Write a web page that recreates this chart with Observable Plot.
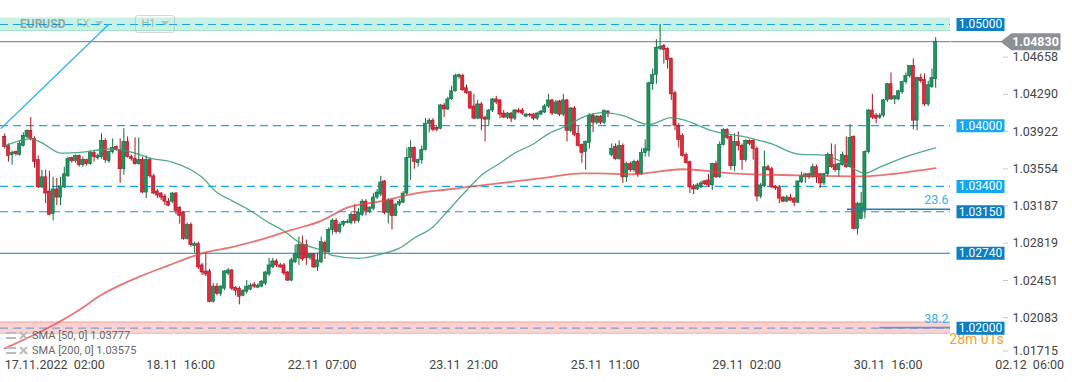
<!DOCTYPE html>
<html><head><meta charset="utf-8">
<script src="https://cdn.jsdelivr.net/npm/d3@7"></script>
<script src="https://cdn.jsdelivr.net/npm/@observablehq/plot@0.6"></script>
<style>
html,body{margin:0;padding:0;background:#fff;}
#wrap{position:relative;width:1072px;height:382px;overflow:hidden;font-family:Roboto,sans-serif;}
#chart svg{display:block;}
#sym{position:absolute;left:20px;top:15px;height:17px;display:flex;align-items:center;color:rgba(80,95,95,0.5);font-size:12px;}
#sym .t{font-weight:700;}
#sym .fx{margin-left:11px;font-size:11px;color:rgba(80,95,95,0.35);}
#sym .car{display:inline-block;width:0;height:0;border-left:4px solid transparent;border-right:4px solid transparent;border-top:5px solid rgba(80,95,95,0.3);margin-left:6px;}
#sym .tf{margin-left:32px;border:1px solid rgba(160,170,170,0.45);border-radius:3px;padding:0 5px;height:16px;display:flex;align-items:center;font-size:11px;color:rgba(80,95,95,0.4);}
#legend{position:absolute;left:6px;top:328px;font-size:11px;color:#666;line-height:15px;}
#legend .row{display:flex;align-items:center;}
#legend svg{margin-right:4px;}
</style></head><body>
<div id="wrap"><div id="chart"></div>
<div id="sym"><span class="t">EURUSD</span><span class="fx">FX</span><span class="car"></span><span class="tf">H1<span class="car"></span></span></div>
<div id="legend">
<div class="row"><svg width="22" height="10"><rect x="0" y="1" width="10" height="2" fill="#bbb"/><rect x="0" y="6" width="10" height="2" fill="#bbb"/><path d="M14 1 L21 8 M21 1 L14 8" stroke="#bbb" stroke-width="2"/></svg><span>SMA [50, 0] 1.03777</span></div>
<div class="row"><svg width="22" height="10"><rect x="0" y="1" width="10" height="2" fill="#bbb"/><rect x="0" y="6" width="10" height="2" fill="#bbb"/><path d="M14 1 L21 8 M21 1 L14 8" stroke="#bbb" stroke-width="2"/></svg><span>SMA [200, 0] 1.03575</span></div>
</div>
</div>
<script>
// ---- Hourly candles EURUSD H1, index 0 = 17.11.2022 02:00 ----
const opens = [1.0389,1.0380,1.0371,1.0374,1.0371,1.0380,1.0389,1.0395,1.0387,1.0366,1.0339,1.0349,1.0335,1.0313,1.0337,1.0329,1.0339,1.0350,1.0368,1.0365,
1.0370,1.0361,1.0366,1.0362,1.0373,1.0368,1.0369,1.0385,1.0365,1.0374,1.0379,1.0376,1.0357,1.0384,1.0369,1.0367,1.0362,1.0366,1.0334,1.0366,
1.0350,1.0335,1.0333,1.0330,1.0325,1.0325,1.0333,1.0319,1.0314,1.0288,1.0302,1.0281,1.0283,1.0262,1.0256,1.0256,1.0226,1.0241,1.0234,1.0239,
1.0254,1.0257,1.0240,1.0239,1.0232,1.0236,1.0238,1.0243,1.0240,1.0241,1.0244,1.0253,1.0260,1.0266,1.0262,1.0262,1.0255,1.0247,1.0265,1.0269,
1.0282,1.0282,1.0269,1.0273,1.0260,1.0265,1.0284,1.0275,1.0297,1.0306,1.0295,1.0302,1.0304,1.0304,1.0312,1.0306,1.0312,1.0325,1.0315,1.0318,
1.0329,1.0332,1.0345,1.0314,1.0326,1.0311,1.0322,1.0324,1.0333,1.0368,1.0378,1.0363,1.0366,1.0376,1.0402,1.0405,1.0398,1.0397,1.0420,1.0416,
1.0426,1.0434,1.0448,1.0449,1.0437,1.0433,1.0419,1.0407,1.0421,1.0408,1.0406,1.0415,1.0426,1.0425,1.0412,1.0408,1.0412,1.0407,1.0415,1.0415,
1.0409,1.0411,1.0411,1.0407,1.0411,1.0413,1.0419,1.0425,1.0412,1.0424,1.0411,1.0425,1.0395,1.0417,1.0392,1.0381,1.0374,1.0383,1.0410,1.0403,
1.0409,1.0403,1.0414,1.0371,1.0379,1.0367,1.0380,1.0349,1.0362,1.0356,1.0364,1.0352,1.0373,1.0375,1.0441,1.0450,1.0476,1.0479,1.0476,1.0466,
1.0432,1.0400,1.0390,1.0371,1.0364,1.0340,1.0337,1.0339,1.0345,1.0346,1.0341,1.0362,1.0349,1.0381,1.0396,1.0389,1.0360,1.0384,1.0380,1.0366,
1.0385,1.0385,1.0377,1.0330,1.0340,1.0359,1.0357,1.0340,1.0339,1.0329,1.0325,1.0329,1.0328,1.0324,1.0344,1.0349,1.0352,1.0349,1.0359,1.0352,
1.0343,1.0352,1.0371,1.0361,1.0356,1.0361,1.0370,1.0359,1.0389,1.0298,1.0308,1.0316,1.0374,1.0415,1.0410,1.0408,1.0410,1.0425,1.0441,1.0426,
1.0426,1.0433,1.0443,1.0449,1.0459,1.0405,1.0447,1.0445,1.0421,1.0438,1.0446];
const highs = [1.0392,1.0382,1.0375,1.0375,1.0385,1.0393,1.0396,1.0408,1.0389,1.0370,1.0356,1.0356,1.0355,1.0349,1.0348,1.0349,1.0359,1.0369,1.0369,1.0371,
1.0371,1.0369,1.0367,1.0375,1.0375,1.0372,1.0392,1.0387,1.0375,1.0387,1.0380,1.0387,1.0397,1.0389,1.0371,1.0388,1.0388,1.0369,1.0370,1.0368,
1.0352,1.0337,1.0334,1.0332,1.0328,1.0334,1.0334,1.0320,1.0315,1.0304,1.0304,1.0285,1.0285,1.0264,1.0274,1.0258,1.0244,1.0244,1.0242,1.0257,
1.0259,1.0258,1.0241,1.0241,1.0238,1.0247,1.0244,1.0245,1.0244,1.0247,1.0256,1.0269,1.0269,1.0268,1.0264,1.0264,1.0256,1.0269,1.0282,1.0290,
1.0291,1.0287,1.0274,1.0274,1.0274,1.0290,1.0286,1.0299,1.0308,1.0308,1.0304,1.0306,1.0307,1.0314,1.0322,1.0318,1.0327,1.0327,1.0320,1.0333,
1.0337,1.0350,1.0346,1.0328,1.0328,1.0323,1.0327,1.0335,1.0378,1.0385,1.0379,1.0367,1.0380,1.0407,1.0407,1.0407,1.0399,1.0421,1.0422,1.0428,
1.0439,1.0451,1.0451,1.0451,1.0440,1.0434,1.0431,1.0425,1.0423,1.0409,1.0416,1.0427,1.0429,1.0426,1.0415,1.0413,1.0413,1.0416,1.0417,1.0417,
1.0412,1.0412,1.0412,1.0413,1.0415,1.0421,1.0431,1.0426,1.0425,1.0425,1.0431,1.0426,1.0418,1.0419,1.0399,1.0382,1.0385,1.0412,1.0412,1.0410,
1.0410,1.0415,1.0415,1.0382,1.0382,1.0385,1.0382,1.0364,1.0364,1.0366,1.0366,1.0377,1.0386,1.0443,1.0456,1.0485,1.0500,1.0480,1.0477,1.0467,
1.0434,1.0402,1.0392,1.0373,1.0365,1.0342,1.0343,1.0345,1.0346,1.0352,1.0363,1.0365,1.0384,1.0397,1.0397,1.0391,1.0392,1.0394,1.0382,1.0386,
1.0386,1.0386,1.0379,1.0343,1.0375,1.0361,1.0359,1.0341,1.0341,1.0330,1.0331,1.0332,1.0329,1.0345,1.0354,1.0353,1.0353,1.0362,1.0361,1.0353,
1.0353,1.0373,1.0382,1.0381,1.0363,1.0374,1.0389,1.0401,1.0390,1.0324,1.0334,1.0375,1.0416,1.0431,1.0412,1.0412,1.0426,1.0442,1.0452,1.0430,
1.0435,1.0444,1.0452,1.0459,1.0466,1.0448,1.0451,1.0451,1.0444,1.0456,1.0487];
const lows = [1.0377,1.0364,1.0361,1.0370,1.0370,1.0379,1.0387,1.0385,1.0358,1.0338,1.0338,1.0323,1.0311,1.0306,1.0321,1.0321,1.0338,1.0349,1.0363,1.0363,
1.0359,1.0359,1.0360,1.0361,1.0364,1.0366,1.0367,1.0363,1.0363,1.0372,1.0375,1.0343,1.0351,1.0368,1.0365,1.0361,1.0361,1.0333,1.0328,1.0348,
1.0332,1.0328,1.0326,1.0321,1.0320,1.0323,1.0312,1.0303,1.0287,1.0287,1.0280,1.0274,1.0258,1.0252,1.0251,1.0225,1.0225,1.0232,1.0231,1.0237,
1.0252,1.0237,1.0232,1.0223,1.0231,1.0234,1.0237,1.0239,1.0239,1.0240,1.0242,1.0251,1.0259,1.0260,1.0259,1.0252,1.0246,1.0246,1.0264,1.0262,
1.0266,1.0262,1.0267,1.0259,1.0256,1.0264,1.0268,1.0274,1.0292,1.0293,1.0293,1.0300,1.0303,1.0302,1.0303,1.0304,1.0310,1.0311,1.0313,1.0316,
1.0327,1.0330,1.0312,1.0303,1.0297,1.0310,1.0320,1.0323,1.0331,1.0346,1.0357,1.0359,1.0362,1.0375,1.0393,1.0394,1.0394,1.0396,1.0408,1.0415,
1.0425,1.0433,1.0446,1.0434,1.0431,1.0416,1.0406,1.0406,1.0395,1.0384,1.0400,1.0413,1.0421,1.0407,1.0407,1.0406,1.0403,1.0405,1.0412,1.0410,
1.0408,1.0408,1.0405,1.0405,1.0410,1.0412,1.0417,1.0410,1.0411,1.0409,1.0409,1.0384,1.0393,1.0389,1.0379,1.0363,1.0356,1.0377,1.0393,1.0401,
1.0401,1.0401,1.0408,1.0369,1.0366,1.0366,1.0343,1.0344,1.0354,1.0354,1.0349,1.0351,1.0369,1.0369,1.0435,1.0441,1.0474,1.0461,1.0456,1.0425,
1.0395,1.0378,1.0369,1.0362,1.0333,1.0332,1.0336,1.0338,1.0341,1.0339,1.0336,1.0348,1.0348,1.0380,1.0386,1.0356,1.0355,1.0375,1.0356,1.0364,
1.0380,1.0366,1.0325,1.0328,1.0339,1.0355,1.0338,1.0336,1.0323,1.0324,1.0324,1.0325,1.0320,1.0323,1.0343,1.0343,1.0347,1.0348,1.0343,1.0338,
1.0341,1.0350,1.0358,1.0354,1.0349,1.0360,1.0358,1.0358,1.0297,1.0292,1.0307,1.0308,1.0372,1.0406,1.0402,1.0406,1.0408,1.0423,1.0425,1.0421,
1.0425,1.0431,1.0441,1.0447,1.0396,1.0395,1.0442,1.0419,1.0419,1.0437,1.0437];
const closes = [1.0379,1.0370,1.0373,1.0372,1.0382,1.0390,1.0395,1.0387,1.0364,1.0339,1.0349,1.0333,1.0312,1.0337,1.0329,1.0340,1.0352,1.0367,1.0365,1.0370,
1.0361,1.0366,1.0362,1.0373,1.0369,1.0370,1.0385,1.0366,1.0374,1.0378,1.0376,1.0357,1.0384,1.0369,1.0367,1.0362,1.0366,1.0334,1.0366,1.0350,
1.0333,1.0331,1.0329,1.0325,1.0321,1.0333,1.0316,1.0311,1.0288,1.0302,1.0282,1.0283,1.0260,1.0255,1.0253,1.0226,1.0241,1.0234,1.0241,1.0256,
1.0257,1.0239,1.0237,1.0231,1.0237,1.0241,1.0242,1.0241,1.0242,1.0246,1.0255,1.0262,1.0266,1.0262,1.0260,1.0254,1.0247,1.0267,1.0273,1.0282,
1.0268,1.0269,1.0273,1.0260,1.0267,1.0285,1.0275,1.0297,1.0306,1.0295,1.0302,1.0305,1.0305,1.0312,1.0306,1.0314,1.0325,1.0316,1.0319,1.0329,
1.0334,1.0344,1.0314,1.0326,1.0311,1.0322,1.0325,1.0333,1.0368,1.0378,1.0364,1.0366,1.0376,1.0402,1.0405,1.0396,1.0396,1.0420,1.0416,1.0426,
1.0434,1.0449,1.0450,1.0435,1.0432,1.0417,1.0407,1.0421,1.0407,1.0406,1.0415,1.0426,1.0423,1.0411,1.0408,1.0412,1.0407,1.0415,1.0413,1.0412,
1.0411,1.0410,1.0407,1.0412,1.0414,1.0419,1.0425,1.0412,1.0423,1.0411,1.0425,1.0395,1.0417,1.0391,1.0380,1.0373,1.0384,1.0410,1.0403,1.0409,
1.0403,1.0415,1.0412,1.0377,1.0367,1.0380,1.0349,1.0362,1.0356,1.0364,1.0352,1.0373,1.0377,1.0442,1.0450,1.0477,1.0478,1.0475,1.0465,1.0431,
1.0400,1.0386,1.0370,1.0363,1.0339,1.0337,1.0341,1.0343,1.0342,1.0341,1.0362,1.0349,1.0381,1.0396,1.0388,1.0360,1.0384,1.0380,1.0366,1.0385,
1.0382,1.0377,1.0330,1.0341,1.0359,1.0356,1.0339,1.0338,1.0328,1.0325,1.0329,1.0326,1.0324,1.0345,1.0350,1.0352,1.0349,1.0359,1.0349,1.0343,
1.0352,1.0371,1.0359,1.0356,1.0362,1.0371,1.0359,1.0388,1.0298,1.0323,1.0323,1.0374,1.0415,1.0408,1.0407,1.0410,1.0425,1.0441,1.0426,1.0429,
1.0434,1.0443,1.0449,1.0459,1.0405,1.0447,1.0444,1.0421,1.0440,1.0447,1.0483];

// ---- Moving averages (candle index, value) ----
const sma50Idx = [0,7,10,15,21,28,35,39,45,53,57,61,66,71,75,79,85,88,95,102,106,110,115,119,124,128,133,137,142,146,151,155,161,166,173,179,182,190,200,206,213,220,225,231,235,241,250];
const sma50Val = [1.0380,1.0387,1.0383,1.0373,1.0374,1.0377,1.0373,1.0368,1.0364,1.0349,1.0334,1.0326,1.0316,1.0304,1.0296,1.0285,1.0277,1.0272,1.0269,1.0274,1.0279,1.0289,1.0300,1.0316,1.0336,1.0351,1.0363,1.0373,1.0382,1.0392,1.0400,1.0408,1.0413,1.0410,1.0401,1.0408,1.0406,1.0395,1.0388,1.0382,1.0372,1.0371,1.0364,1.0353,1.0359,1.0368,1.0378];
const sma200Idx = [0,20,26,35,44,53,61,71,77,85,92,102,110,119,128,137,146,155,160,168,182,195,213,231,240,250];
const sma200Val = [1.0180,1.0218,1.0233,1.0249,1.0262,1.0274,1.0280,1.0290,1.0297,1.0306,1.0319,1.0326,1.0333,1.0337,1.0341,1.0345,1.0349,1.0353,1.0353,1.0352,1.0357,1.0353,1.0351,1.0350,1.0353,1.0358];

// ---- Drawings ----
const trendIdx = [-1, 27.9];
const trendVal = [1.03973, 1.0500];
const levelVals = [1.05000, 1.04000, 1.03400, 1.03150, 1.02740, 1.02000];
const levelDash = ["8,5", "8,5", "8,5", "8,5", null, "8,5"];
const levelLine = ["#14a4ee", "#1aa6ee", "#1aa6ee", "#1d8fd8", "#1a7cc0", "#7f9dc8"];
const levelTag = ["#0b7ec4", "#16a7f2", "#16a7f2", "#0b7ec4", "#0b7ec4", "#0b7ec4"];
const zones = [{lo: 1.04941, hi: 1.05064, fill: "#c9f1e5", edge: "#a3e3cd"}, {lo: 1.01950, hi: 1.02060, fill: "#fbd2d2", edge: "#f2a6a6"}];
const fibLabels = ["23.6", "38.2"];
const fibVals = [1.03175, 1.02005];
const fibFrom = [226.3, 235];
const lastPrice = 1.04830;
const countdown = "28m 01s";
const yTicks = [1.04658, 1.04290, 1.03922, 1.03554, 1.03187, 1.02819, 1.02451, 1.02083];
const yTickLow = [1.01715];
const xTickIdx = [0, 38, 76, 114, 152, 190, 228, 266];
const xTickLabels = ["17.11.2022  02:00", "18.11  16:00", "22.11  07:00", "23.11  21:00", "25.11  11:00", "29.11  02:00", "30.11  16:00", "02.12  06:00"];

const candles = closes.map((c, i) => ({i, open: opens[i], high: highs[i], low: lows[i], close: c, up: c >= opens[i]}));
const sma50 = sma50Idx.map((i, k) => ({i, v: sma50Val[k]}));
const sma200 = sma200Idx.map((i, k) => ({i, v: sma200Val[k]}));
const trend = trendIdx.map((i, k) => ({i, v: trendVal[k]}));
const levels = levelVals.map((v, k) => ({v, dash: levelDash[k], line: levelLine[k], tag: levelTag[k]}));
const fibs = fibLabels.map((l, k) => ({l, v: fibVals[k], from: fibFrom[k], to: 254}));
const xTicks = xTickIdx.map((i, k) => ({i, t: xTickLabels[k].replace(/ /g, "\u00a0")}));

const boxSym = {draw(ctx) { ctx.rect(-24, -6.5, 48, 13); }};
const tagSym = {draw(ctx) {
  ctx.rect(-80, -0.6, 51, 1.2);
  ctx.moveTo(-30, 0); ctx.lineTo(-19, -8.5); ctx.lineTo(30, -8.5); ctx.lineTo(30, 8.5); ctx.lineTo(-19, 8.5); ctx.closePath();
}};

const GREEN = "#1f9460", GREEN_D = "#0f6a40", RED = "#e3283c", RED_D = "#a8141f";
const axisOpts = {anchor: "right", label: null, tickFormat: d3.format(".5f"), tickSize: 5, tickPadding: 5, dx: 52, fontSize: 12.5, fill: "#444", stroke: "#c8c8c8"};

const chart = Plot.plot({
  width: 1072, height: 382,
  marginLeft: 0, marginRight: 122, marginTop: 0, marginBottom: 27,
  style: {fontFamily: "Roboto, sans-serif", background: "white", overflow: "visible"},
  x: {domain: [-1.13, 253.98], axis: null},
  y: {domain: [1.0173, 1.05237], axis: null, label: null},
  marks: [
    Plot.rect(zones, {y1: "lo", y2: "hi", fill: "fill"}),
    Plot.ruleY(zones, {y: "lo", stroke: "edge", strokeWidth: 1}),
    Plot.ruleY(zones.slice(1), {y: "hi", stroke: "edge", strokeWidth: 1}),
    ...levels.map(d => Plot.ruleY([d.v], {stroke: d.line, strokeWidth: 1.2, strokeDasharray: d.dash || undefined})),
    Plot.line(trend, {x: "i", y: "v", stroke: "#2eaef0", strokeWidth: 1.2}),
    Plot.ruleY([lastPrice], {stroke: "#8c9196", strokeWidth: 1.3}),
    Plot.ruleX(candles, {x: "i", y1: "low", y2: "high", stroke: d => d.up ? GREEN_D : RED_D, strokeWidth: 1}),
    Plot.rect(candles, {x1: d => d.i - 0.42, x2: d => d.i + 0.42, y1: "open", y2: "close", fill: d => d.up ? GREEN : RED, stroke: d => d.up ? GREEN_D : RED_D, strokeWidth: 0.6}),
    Plot.line(sma200, {x: "i", y: "v", stroke: "#e04646", strokeWidth: 1.8, strokeOpacity: 0.75, curve: "monotone-x"}),
    Plot.line(sma50, {x: "i", y: "v", stroke: "#2f9e6f", strokeWidth: 1.3, strokeOpacity: 0.85, curve: "monotone-x"}),
    Plot.ruleY(fibs, {y: "v", x1: "from", x2: "to", stroke: (d, k) => k === 0 ? "#1a7ec4" : "#7390c0", strokeWidth: 1.6}),
    Plot.text(fibs, {y: "v", text: "l", frameAnchor: "right", dx: -2, dy: -9, textAnchor: "end", fill: "#3aaef0", fontSize: 12.5}),
    Plot.text([countdown], {y: () => 1.02, text: d => d, frameAnchor: "right", dx: 26, dy: 11, textAnchor: "middle", fill: "#f6a02e", fontSize: 14}),
    Plot.dot(levels, {y: "v", frameAnchor: "right", dx: 30, symbol: boxSym, fill: "tag", stroke: null}),
    Plot.text(levels, {y: "v", text: d => d.v.toFixed(5), frameAnchor: "right", dx: 30, textAnchor: "middle", fill: "white", fontSize: 12}),
    Plot.dot([lastPrice], {y: d => d, frameAnchor: "right", dx: 80, symbol: tagSym, fill: "#8c9196", stroke: null}),
    Plot.text([lastPrice], {y: d => d, text: d => d.toFixed(5), frameAnchor: "right", dx: 85, textAnchor: "middle", fill: "white", fontSize: 12.5, fontWeight: "bold"}),
    Plot.axisY(yTicks, {...axisOpts, dy: -2}),
    Plot.axisY(yTickLow, {...axisOpts, dy: -6}),
    Plot.text(xTicks, {x: "i", text: "t", frameAnchor: "bottom", dy: 13, textAnchor: "start", fill: "#444", fontSize: 12.5})
  ]
});
document.getElementById("chart").appendChild(chart);
</script>
</body></html>
